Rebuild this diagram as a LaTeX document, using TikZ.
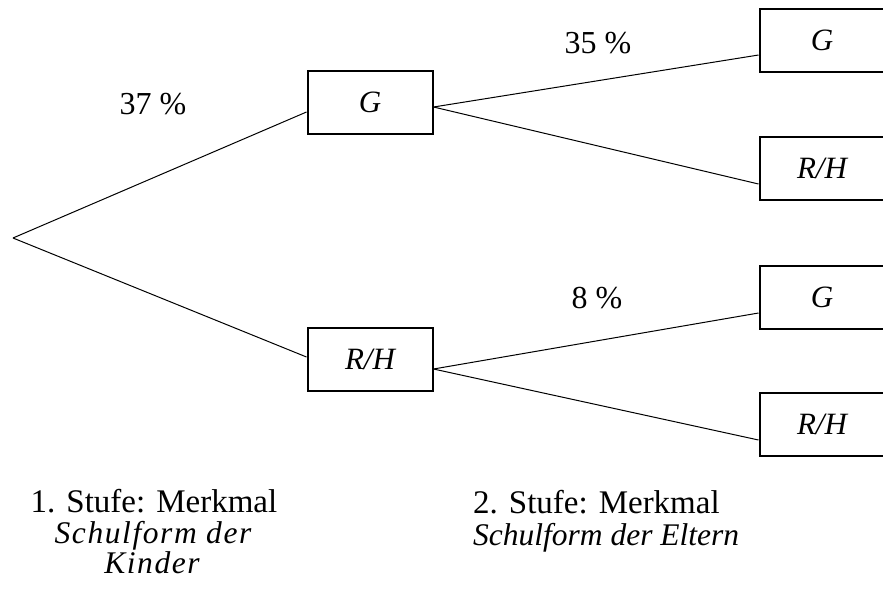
\documentclass[tikz,border=0pt]{standalone}
\usepackage{fontspec}
\setmainfont{Liberation Serif}
\tikzset{
  BoxStyle/.style = { rectangle, draw, line width = 2pt,
                      minimum width = 125pt, minimum height = 63pt,
                      inner sep = 0pt,
                      font = \fontsize{31}{31}\selectfont\itshape },
  PctStyle/.style = { anchor = base, inner sep = 0pt,
                      font = \fontsize{32}{32}\selectfont },
  StageStyle/.style = { anchor = base, inner sep = 0pt,
                        font = \fontsize{33}{31}\selectfont },
  StageItStyle/.style = { anchor = base, inner sep = 0pt,
                          font = \fontsize{31.5}{31}\selectfont\itshape },
  WideItStyle/.style = { StageItStyle,
                         font = \fontsize{31.5}{31}\selectfont\itshape\addfontfeatures{LetterSpace=5} },
  EdgeStyle/.style = { line width = 1pt } }

\begin{document}
\begin{tikzpicture}[x=1pt,y=1pt]
  \useasboundingbox (0,0) rectangle (883,-590);
  % root of the tree
  \coordinate (root) at (13,-238);

  % first stage
  \node[BoxStyle] (k1) at (370,-102) {G};
  \node[BoxStyle] (k2) at (370,-359) {R/H};

  % second stage
  \node[BoxStyle] (e1) at (822,-40)  {G};
  \node[BoxStyle] (e2) at (822,-168) {R/H};
  \node[BoxStyle] (e3) at (822,-297) {G};
  \node[BoxStyle] (e4) at (822,-424) {R/H};

  \draw[EdgeStyle] (root) -- ([yshift=-10pt]k1.west);
  \draw[EdgeStyle] (root) -- ([yshift=2pt]k2.west);

  \draw[EdgeStyle] ([yshift=-5pt]k1.east) -- ([yshift=-15pt]e1.west);
  \draw[EdgeStyle] ([yshift=-5pt]k1.east) -- ([yshift=-16pt]e2.west);
  \draw[EdgeStyle] ([yshift=-10pt]k2.east) -- ([yshift=-16pt]e3.west);
  \draw[EdgeStyle] ([yshift=-10pt]k2.east) -- ([yshift=-16pt]e4.west);

  % percentages
  \node[PctStyle] (p1) at (153,-114) {37 \%};
  \node[PctStyle] (p2) at (598,-53)  {35 \%};
  \node[PctStyle] (p3) at (597,-308) {8 \%};

  % stage captions
  \node[StageStyle]  (s1a) at (154,-512) {1. Stufe: Merkmal};
  \node[WideItStyle] (s1b) at (153,-543) {Schulform der};
  \node[WideItStyle] (s1c) at (152,-573) {Kinder};
  \node[StageStyle, anchor = base west]   (s2a) at (473,-513) {2. Stufe: Merkmal};
  \node[StageItStyle, anchor = base west] (s2b) at (473,-545) {Schulform der Eltern};
\end{tikzpicture}
\end{document}
